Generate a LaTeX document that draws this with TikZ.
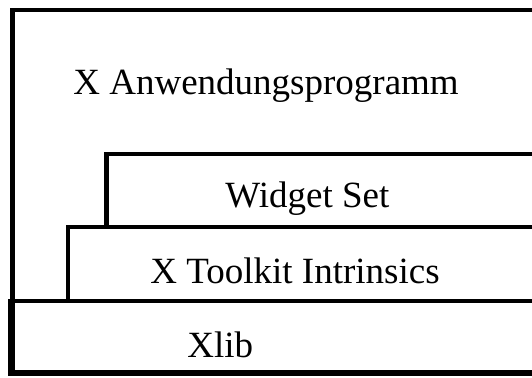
\documentclass[tikz,border=0pt]{standalone}
\usepackage{fontspec}
\setmainfont{Liberation Serif}
\usepackage{tikz}
\usetikzlibrary{positioning}
\definecolor{layerDark}{gray}{0.00}

\begin{document}
\begin{tikzpicture}[
      x=0.5pt, y=-0.5pt,
      layer/.style={draw=layerDark, line width=2.3pt, line join=miter},
      base/.style={draw=layerDark, line width=3.3pt, line join=miter},
      layertext/.style={anchor=base west, inner sep=0pt,
                        font=\fontsize{18.5}{20}\selectfont}]

    \clip (0,0) rectangle (532,377);

    % layers, open to the right
    \draw[layer] (545,10) -- (12.5,10) -- (12.5,301);
    \draw[layer] (545,154) -- (106.5,154) -- (106.5,227);
    \draw[layer] (545,227) -- (68,227) -- (68,301);
    \draw[layer] (545,301) -- (11.5,301);
    \draw[base]  (11.5,299) -- (11.5,373) -- (545,373);

    \node[layertext] (app)     at (73,94)   {X Anwendungsprogramm};
    \node[layertext] (widgets) at (225,207) {Widget Set};
    \node[layertext] (toolkit) at (150,283) {X Toolkit Intrinsics};
    \node[layertext] (xlib)    at (187,357) {Xlib};
  \end{tikzpicture}
\end{document}
